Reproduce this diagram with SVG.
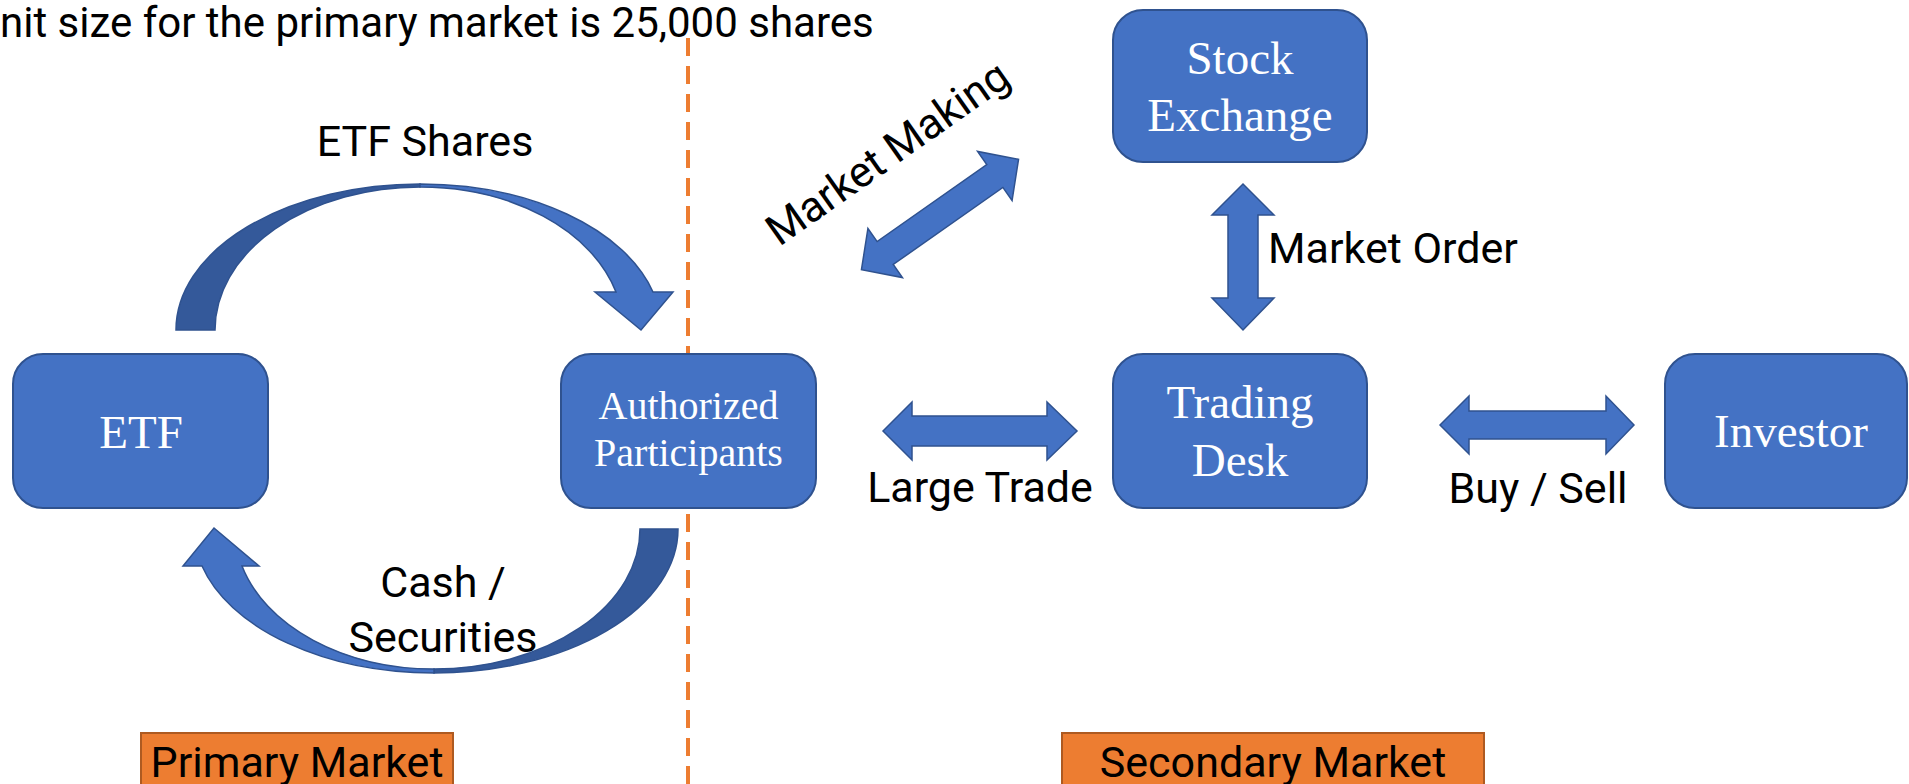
<svg xmlns="http://www.w3.org/2000/svg" width="1909" height="784" viewBox="0 0 1909 784">
  <style>
    .node rect { fill: #4472C4; stroke: #2F528F; stroke-width: 2; }
    .node text { font-family: "Liberation Serif", "Times New Roman", serif; fill: #FFFFFF; text-anchor: middle; }
    .lbl { font-family: Roboto, "Liberation Sans", Arial, sans-serif; font-size: 43px; fill: #000000; }
    .mid { text-anchor: middle; }
    .arrow { fill: #4472C4; stroke: #2F528F; stroke-width: 1.5; stroke-linejoin: miter; }
    .arrow-dark { fill: #34599A; stroke: #2F528F; stroke-width: 1.5; }
    .divider { stroke: #ED7D31; stroke-width: 4; stroke-dasharray: 18 10; fill: none; }
    .market rect { fill: #ED7D31; stroke: #AE5A21; stroke-width: 2; }
  </style>

  <rect x="0" y="0" width="1909" height="784" fill="#FFFFFF"/>

  <line class="divider" x1="688" y1="38" x2="688" y2="784"/>

  <text class="lbl" x="0" y="37" style="font-size:42px">nit size for the primary market is 25,000 shares</text>

  <g id="connectors">
    <!-- ETF Shares curved arrow (ETF -> Authorized Participants) -->
    <path class="arrow-dark" d="M176,330 A244,146 0 0 1 420,184 L420,187 A205,143 0 0 0 215,330 Z"/>
    <path class="arrow" d="M420,184 A241,146 0 0 1 653,292 L673,292 L641,330 L595,292 L616,292 A203,143 0 0 0 420,187 Z"/>
    <!-- Cash / Securities curved arrow (Authorized Participants -> ETF) -->
    <path class="arrow-dark" d="M678,529 A244,144 0 0 1 434,673 L434,669 A206,140 0 0 0 640,529 Z"/>
    <path class="arrow" d="M434,673 A240,144 0 0 1 202,566 L183,566 L214,528 L259,566 L242,566 A199,140 0 0 0 434,669 Z"/>
    <!-- Market Making -->
    <polygon class="arrow" transform="translate(940,214.5) rotate(-35.1)" points="-96,0 -67,-30 -67,-14 67,-14 67,-30 96,0 67,30 67,14 -67,14 -67,30"/>
    <!-- Market Order -->
    <polygon class="arrow" points="1243,184 1274,215 1258,215 1258,298 1274,298 1243,330 1212,298 1228,298 1228,215 1212,215"/>
    <!-- Large Trade -->
    <polygon class="arrow" points="883,431 912,402 912,416 1047,416 1047,402 1077,431 1047,460 1047,446 912,446 912,460"/>
    <!-- Buy / Sell -->
    <polygon class="arrow" points="1440,425 1469,396 1469,411 1606,411 1606,396 1634,425 1606,454 1606,439 1469,439 1469,454"/>
  </g>

  <g id="labels">
    <text class="lbl mid" x="425" y="156">ETF Shares</text>
    <text class="lbl mid" x="443" y="597">Cash /</text>
    <text class="lbl mid" x="443" y="652">Securities</text>
    <text class="lbl mid" transform="translate(896,165) rotate(-35.1)" x="0" y="0">Market Making</text>
    <text class="lbl" x="1268" y="263">Market Order</text>
    <text class="lbl mid" x="980" y="502">Large Trade</text>
    <text class="lbl mid" x="1538" y="503">Buy / Sell</text>
  </g>

  <g id="etf" class="node">
    <rect x="13" y="354" width="255" height="154" rx="30" ry="30"/>
    <text x="141" y="448" font-size="47">ETF</text>
  </g>

  <g id="authorized-participants" class="node">
    <rect x="561" y="354" width="255" height="154" rx="30" ry="30"/>
    <text x="688.5" y="419" font-size="40">Authorized</text>
    <text x="688.5" y="466" font-size="40">Participants</text>
  </g>

  <g id="stock-exchange" class="node">
    <rect x="1113" y="10" width="254" height="152" rx="30" ry="30"/>
    <text x="1240" y="74" font-size="47">Stock</text>
    <text x="1240" y="131" font-size="47">Exchange</text>
  </g>

  <g id="trading-desk" class="node">
    <rect x="1113" y="354" width="254" height="154" rx="30" ry="30"/>
    <text x="1240" y="418" font-size="47">Trading</text>
    <text x="1240" y="476" font-size="47">Desk</text>
  </g>

  <g id="investor" class="node">
    <rect x="1665" y="354" width="242" height="154" rx="30" ry="30"/>
    <text x="1791" y="447" font-size="47">Investor</text>
  </g>

  <g id="primary-market" class="market">
    <rect x="141" y="733" width="312" height="70"/>
    <text class="lbl mid" x="297" y="777">Primary Market</text>
  </g>

  <g id="secondary-market" class="market">
    <rect x="1062" y="733" width="422" height="70"/>
    <text class="lbl mid" x="1273" y="777">Secondary Market</text>
  </g>
</svg>
